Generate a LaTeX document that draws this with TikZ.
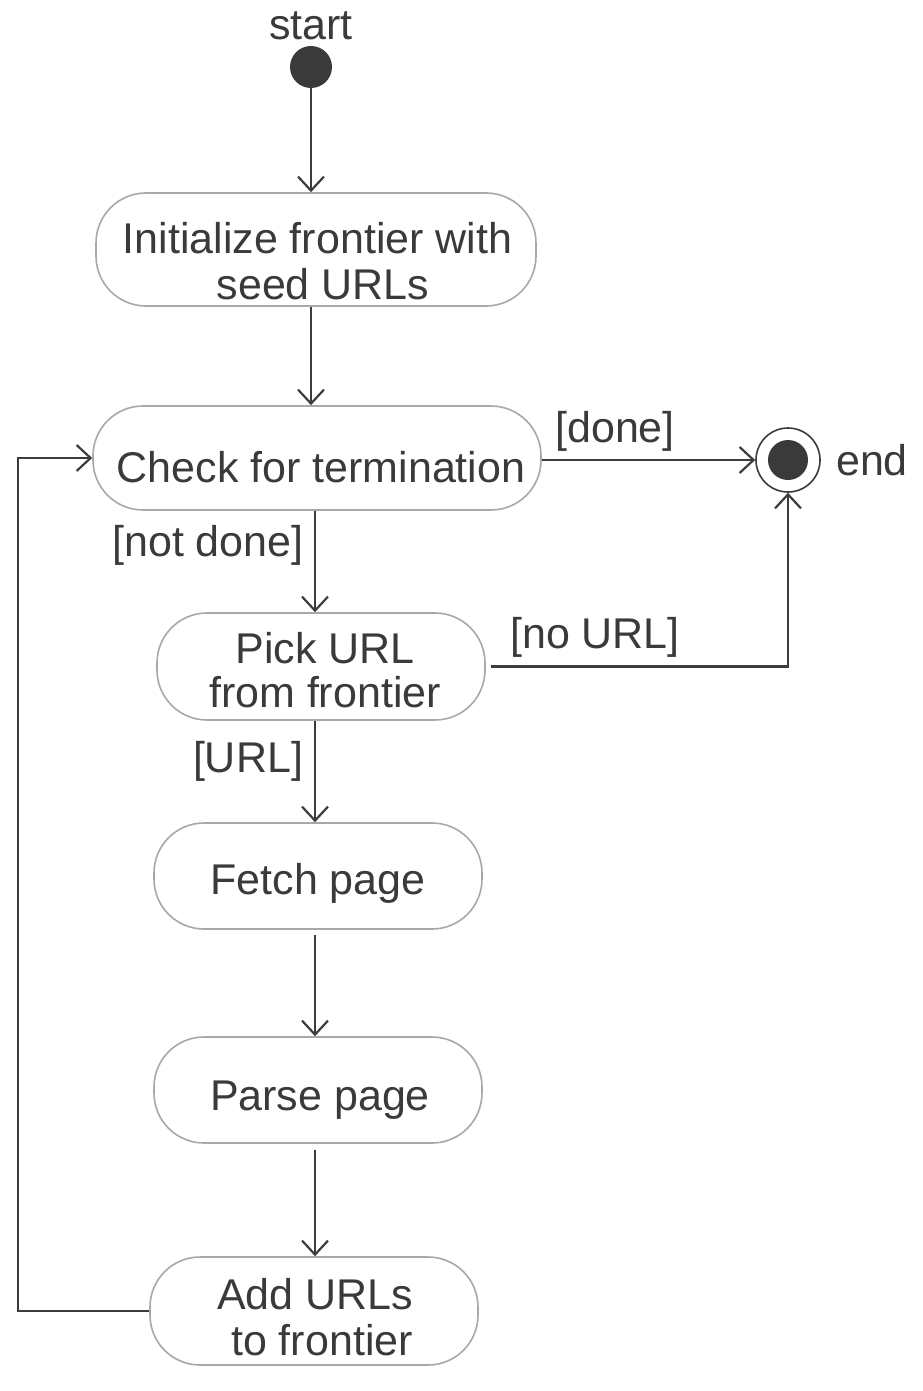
\documentclass[tikz,border=0pt]{standalone}
\usepackage{fontspec}
\setmainfont{Liberation Sans}
\usetikzlibrary{arrows.meta}
\definecolor{ink}{HTML}{3A3A3A}
\definecolor{rim}{HTML}{A8A8A8}
\definecolor{wire}{HTML}{3C3C3C}
\begin{document}
\begin{tikzpicture}[x=0.5pt,y=-0.5pt,
  action/.style={draw=rim, line width=0.8pt, rounded corners=25pt, inner sep=0pt, fill=white},
  txt/.style={text=ink, font=\fontsize{21.5pt}{26pt}\selectfont, inner sep=0pt, anchor=base},
  conn/.style={draw=wire, line width=1.1pt, -{Straight Barb[length=7pt,width=13pt,line width=1.1pt]}},
  link/.style={draw=wire, line width=1.1pt}]
\useasboundingbox (0,0) rectangle (922,1391);

% helper columns for the vertical spine and the loop-back line
\coordinate (spine) at (315,0);
\coordinate (loop) at (18,0);

% initial and final states
\node[circle, fill=ink, minimum size=21pt, inner sep=0pt] (start) at (311,67) {};
\node[txt] (startlbl) at (311,40) {start};
\node[circle, draw=wire, line width=0.8pt, minimum size=32pt, inner sep=0pt] (end) at (788,460) {};
\node[circle, fill=ink, minimum size=20pt, inner sep=0pt] (endcore) at (end.center) {};
\node[txt] (endlbl) at (872,475) {end};

% actions
\node[action, minimum width=220pt, minimum height=56.5pt] (init) at (316,249.5) {};
\node[txt] (init1) at (317.5,253.5) {Initialize frontier with};
\node[txt] (init2) at (323,299.5) {seed URLs};

\node[action, minimum width=224pt, minimum height=52pt] (check) at (317,458) {};
\node[txt] (check1) at (321,482) {Check for termination};

\node[action, minimum width=164pt, minimum height=53.5pt] (pick) at (321,666.5) {};
\node[txt] (pick1) at (325,663.5) {Pick URL};
\node[txt] (pick2) at (325,707.5) {from frontier};

\node[action, minimum width=164pt, minimum height=53pt] (fetch) at (318,876) {};
\node[txt] (fetch1) at (318,894) {Fetch page};

\node[action, minimum width=164pt, minimum height=53pt] (parse) at (318,1090) {};
\node[txt] (parse1) at (320,1110) {Parse page};

\node[action, minimum width=164pt, minimum height=54pt] (add) at (314,1311) {};
\node[txt] (add1) at (315,1309.5) {Add URLs};
\node[txt] (add2) at (322,1355.5) {to frontier};

% guard labels
\node[txt] (gdone) at (615,442) {[done]};
\node[txt] (gnotdone) at (208,556) {[not done]};
\node[txt] (gnourl) at (595,648) {[no URL]};
\node[txt] (gurl) at (248,772) {[URL]};

% transitions
\draw[conn] (start.south) -- (start.south |- init.north);
\draw[conn] (init.south -| start) -- (check.north -| start);
\draw[conn] (end.west -| check.east) -- (end.west);
\draw[conn] (check.south -| spine) -- (pick.north -| spine);
\draw[conn, shorten <=2.5pt] (pick.east) -| (end.south);
\draw[conn] (pick.south -| spine) -- (fetch.north -| spine);
\draw[conn, shorten <=2.5pt] (fetch.south -| spine) -- (parse.north -| spine);
\draw[conn, shorten <=3pt] (parse.south -| spine) -- (add.north -| spine);
\draw[conn] (add.west) -- (add.west -| loop) |- (check.west);
\end{tikzpicture}
\end{document}
